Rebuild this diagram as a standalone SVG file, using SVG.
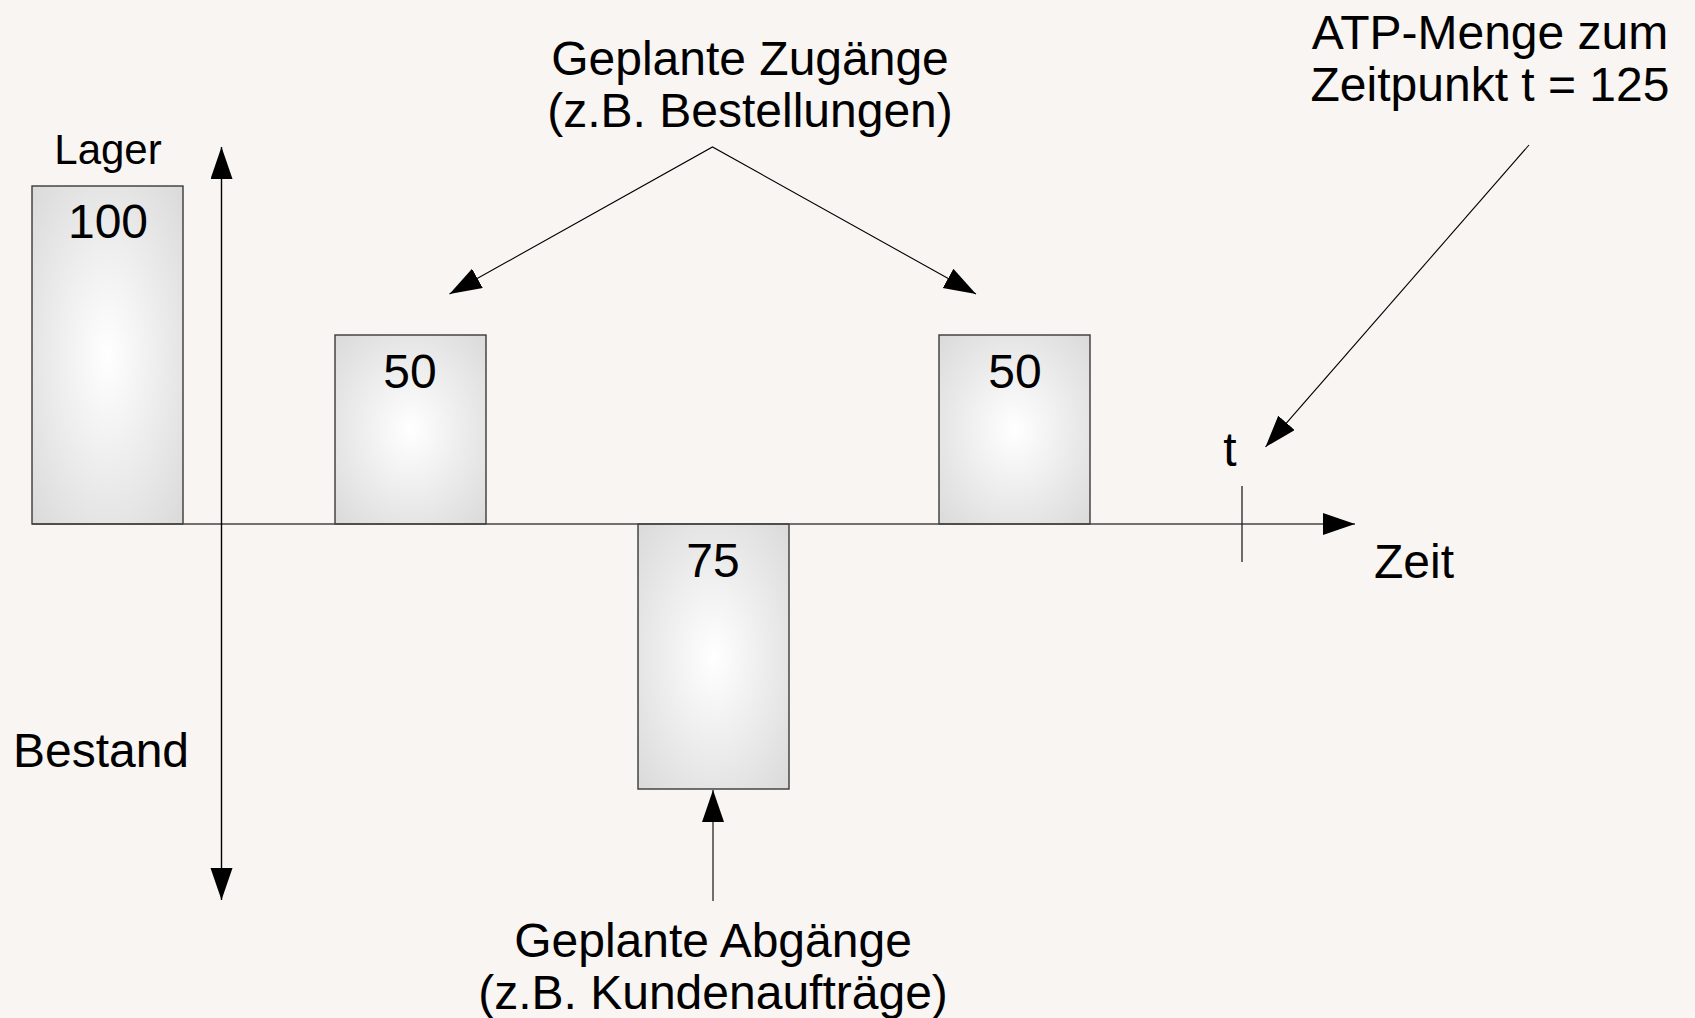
<svg xmlns="http://www.w3.org/2000/svg" width="1695" height="1018" viewBox="0 0 1695 1018">
<style>
.t{font-family:"Liberation Sans",Arial,sans-serif;font-size:48px;fill:#000;text-anchor:middle}
.box{fill:url(#g);stroke:#3a3a3a;stroke-width:1.4}
.c{fill:none;stroke:#000;stroke-width:1.1}
</style>
<defs>
<radialGradient id="g" cx="0.5" cy="0.5" r="0.72">
<stop offset="0" stop-color="#ffffff"/>
<stop offset="1" stop-color="#d9d9d9"/>
</radialGradient>
<marker id="a" markerUnits="userSpaceOnUse" markerWidth="34" markerHeight="24" refX="32" refY="11" orient="auto-start-reverse" viewBox="0 0 34 24">
<path d="M0,0 L32,11 L0,22 Z" fill="#000"/>
</marker>
</defs>
<rect width="1695" height="1018" fill="#f9f5f2"/>
<g id="lager">
<rect class="box" x="32" y="186" width="151" height="338"/>
<text class="t" x="108" y="164" style="font-size:42px">Lager</text>
<text class="t" x="108" y="238">100</text>
</g>
<g id="zugang1">
<rect class="box" x="335" y="335" width="151" height="189"/>
<text class="t" x="410" y="388">50</text>
</g>
<g id="abgang">
<rect class="box" x="638" y="524" width="151" height="265"/>
<text class="t" x="713" y="577">75</text>
</g>
<g id="zugang2">
<rect class="box" x="939" y="335" width="151" height="189"/>
<text class="t" x="1015" y="388">50</text>
</g>
<g id="connectors">
<line x1="32" y1="524" x2="1355" y2="524" stroke="#444" stroke-width="1.4" marker-end="url(#a)"/>
<line x1="221.5" y1="147" x2="221.5" y2="900" stroke="#000" stroke-width="1.4" marker-start="url(#a)" marker-end="url(#a)"/>
<line x1="1242" y1="486" x2="1242" y2="562" stroke="#222" stroke-width="1.3"/>
<polyline class="c" points="449.5,294 712.5,147 976,294" marker-start="url(#a)" marker-end="url(#a)"/>
<line class="c" x1="713" y1="901" x2="713" y2="790" stroke="#444" marker-end="url(#a)"/>
<line class="c" x1="1529" y1="145" x2="1265.5" y2="447" marker-end="url(#a)"/>
</g>
<g id="labels">
<text class="t" x="750" y="75">Geplante Zugänge</text>
<text class="t" x="750" y="127">(z.B. Bestellungen)</text>
<text class="t" x="1490" y="49">ATP-Menge zum</text>
<text class="t" x="1490" y="101">Zeitpunkt t = 125</text>
<text class="t" x="1230" y="466">t</text>
<text class="t" x="1414" y="578">Zeit</text>
<text class="t" x="101" y="767">Bestand</text>
<text class="t" x="713" y="957">Geplante Abgänge</text>
<text class="t" x="713" y="1009">(z.B. Kundenaufträge)</text>
</g>
</svg>
